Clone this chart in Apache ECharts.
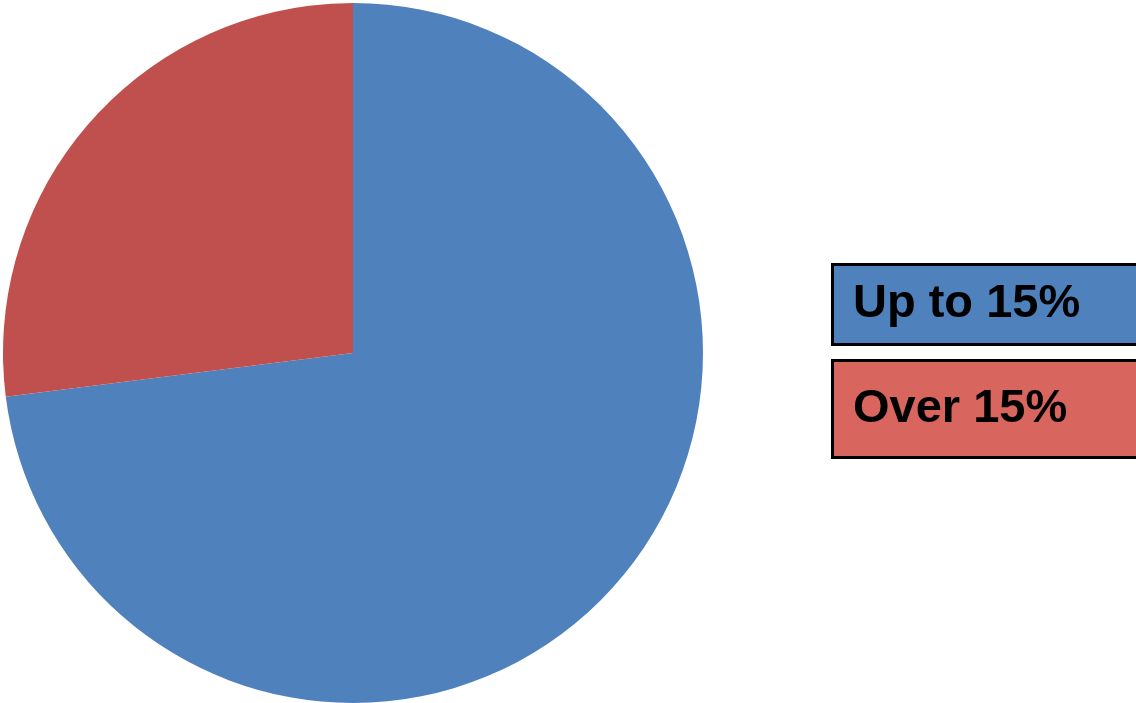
<!DOCTYPE html>
<html>
<head>
<meta charset="utf-8">
<script src="https://cdn.jsdelivr.net/npm/echarts@6/dist/echarts.min.js"></script>
<style>
  html, body { margin: 0; padding: 0; background: #fff; }
  #chart { width: 1136px; height: 703px; }
</style>
</head>
<body>
<div id="chart"></div>
<script>
// Share of items by threshold
const categories = ['Up to 15%', 'Over 15%'];
const values = [73, 27];
const sliceColors = ['#4f81bd', '#c0504d'];
const legendColors = ['#4f81bd', '#d9665e'];

const chart = echarts.init(document.getElementById('chart'), null, { renderer: 'canvas' });

const legendBoxes = [
  { height: 77, padding: [0, 0, 0, 19] },
  { height: 94, padding: [0, 0, 0, 19] }
];

chart.setOption({
  animation: false,
  backgroundColor: '#ffffff',
  legend: {
    orient: 'vertical',
    left: 824,
    top: 258,
    itemWidth: 0,
    itemHeight: 0,
    itemGap: 13,
    selectedMode: false,
    icon: 'rect',
    data: categories.map((name, i) => ({
      name,
      itemStyle: { opacity: 0 },
      textStyle: {
        backgroundColor: legendColors[i],
        height: legendBoxes[i].height,
        padding: legendBoxes[i].padding,
        lineHeight: legendBoxes[i].height
      }
    })),
    textStyle: {
      fontFamily: 'Liberation Sans, Arial, sans-serif',
      fontWeight: 'bold',
      fontSize: 47,
      color: '#000',
      borderColor: '#000',
      borderWidth: 3,
      width: 310,
      verticalAlign: 'middle'
    }
  },
  series: [{
    type: 'pie',
    center: [353, 353],
    radius: [0, 350],
    startAngle: 90,
    clockwise: true,
    label: { show: false },
    labelLine: { show: false },
    emphasis: { disabled: true },
    itemStyle: { borderWidth: 0 },
    data: categories.map((name, i) => ({
      name,
      value: values[i],
      itemStyle: { color: sliceColors[i] }
    }))
  }]
});
</script>
</body>
</html>
